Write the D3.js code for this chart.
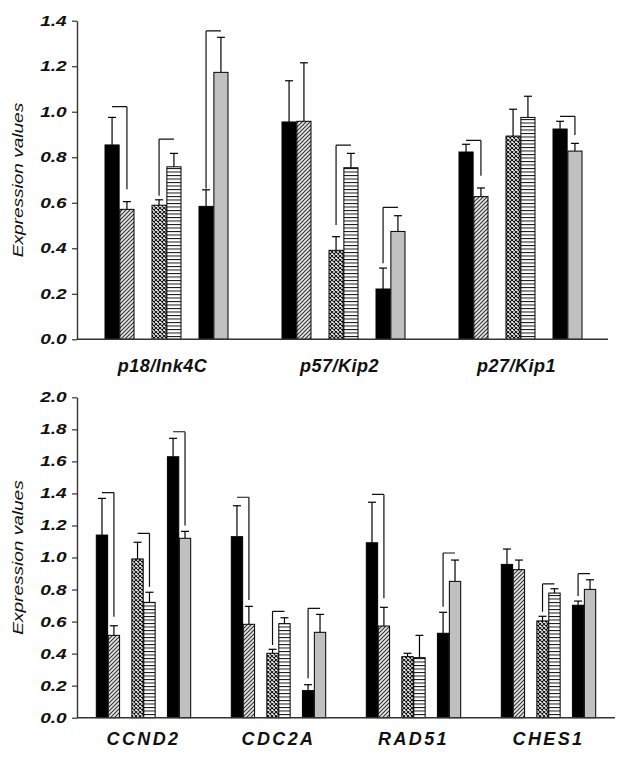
<!DOCTYPE html>
<html><head><meta charset="utf-8">
<script src="https://cdn.jsdelivr.net/npm/d3@7"></script>
<style>
body{margin:0;background:#fff;}
svg{display:block;}
</style></head>
<body>
<svg id="chart" width="628" height="761"></svg>
<script>
// ---------- data ----------
const seriesKeys = ["black1", "hatch", "cross", "stripe", "black2", "gray"];

const topCategories = ["p18/Ink4C", "p57/Kip2", "p27/Kip1"];
const topMeans = [
  [0.854, 0.571, 0.589, 0.758, 0.584, 1.173],
  [0.955, 0.958, 0.391, 0.754, 0.221, 0.474],
  [0.823, 0.627, 0.893, 0.975, 0.924, 0.827]
];
const topErrors = [
  [0.121, 0.034, 0.024, 0.059, 0.073, 0.154],
  [0.181, 0.257, 0.060, 0.063, 0.092, 0.069],
  [0.034, 0.038, 0.118, 0.093, 0.034, 0.034]
];
// [group, pair, bracket level, leg side (0 = left bar, 1 = right bar), leg end value]
const topBrackets = [
  [0, 0, 1.022, 1, 0.659],
  [0, 1, 0.880, 0, 0.631],
  [0, 2, 1.355, 0, 0.663],
  [1, 1, 0.853, 0, 0.502],
  [1, 2, 0.580, 0, 0.334],
  [2, 0, 0.874, 1, 0.719],
  [2, 2, 0.980, 1, 0.898]
];
const topTicks = [0, 0.2, 0.4, 0.6, 0.8, 1.0, 1.2, 1.4];

const botCategories = ["CCND2", "CDC2A", "RAD51", "CHES1"];
const botMeans = [
  [1.140, 0.514, 0.991, 0.720, 1.629, 1.120],
  [1.130, 0.583, 0.402, 0.587, 0.169, 0.533],
  [1.092, 0.572, 0.381, 0.375, 0.527, 0.851],
  [0.957, 0.924, 0.604, 0.778, 0.702, 0.801]
];
const botErrors = [
  [0.229, 0.060, 0.104, 0.063, 0.115, 0.043],
  [0.193, 0.112, 0.025, 0.037, 0.037, 0.112],
  [0.253, 0.117, 0.021, 0.139, 0.131, 0.133],
  [0.096, 0.060, 0.029, 0.027, 0.026, 0.060]
];
const botBrackets = [
  [0, 0, 1.405, 1, 0.630],
  [0, 1, 1.151, 1, 0.818],
  [0, 2, 1.785, 1, 1.199],
  [1, 0, 1.376, 1, 0.735],
  [1, 1, 0.664, 0, 0.454],
  [1, 2, 0.683, 0, 0.246],
  [2, 0, 1.394, 1, 0.745],
  [2, 2, 1.028, 0, 0.693],
  [3, 1, 0.835, 0, 0.662],
  [3, 2, 0.899, 0, 0.760]
];
const botTicks = [0, 0.2, 0.4, 0.6, 0.8, 1.0, 1.2, 1.4, 1.6, 1.8, 2.0];

const yTitle = "Expression values";

// ---------- drawing ----------
const svg = d3.select("#chart");
const defs = svg.append("defs");

// patterns
const pHatch = defs.append("pattern").attr("id", "hatch").attr("patternUnits", "userSpaceOnUse")
  .attr("width", 4).attr("height", 4);
pHatch.append("rect").attr("width", 4).attr("height", 4).attr("fill", "#e6e6e6");
pHatch.append("path").attr("d", "M-1,1 l2,-2 M0,4 l4,-4 M3,5 l2,-2")
  .attr("stroke", "#333").attr("stroke-width", 1.1);

const pCross = defs.append("pattern").attr("id", "cross").attr("patternUnits", "userSpaceOnUse")
  .attr("width", 4).attr("height", 4);
pCross.append("rect").attr("width", 4).attr("height", 4).attr("fill", "#fff");
pCross.append("path").attr("d", "M0,0 L4,4 M4,0 L0,4")
  .attr("stroke", "#111").attr("stroke-width", 1.1);

const pStripe = defs.append("pattern").attr("id", "stripe").attr("patternUnits", "userSpaceOnUse")
  .attr("width", 4).attr("height", 3.5);
pStripe.append("rect").attr("width", 4).attr("height", 3.5).attr("fill", "#fff");
pStripe.append("line").attr("x1", 0).attr("x2", 4).attr("y1", 0.5).attr("y2", 0.5)
  .attr("stroke", "#111").attr("stroke-width", 1);

const fills = {
  black1: "#000", hatch: "url(#hatch)", cross: "url(#cross)",
  stripe: "url(#stripe)", black2: "#000", gray: "#c0c0c0"
};

function panel(cfg) {
  const g = svg.append("g");
  const y = d3.scaleLinear().domain([0, cfg.ymax]).range([cfg.y0, cfg.y1]);
  const n = cfg.categories.length;
  const x0 = d3.scaleBand().domain(cfg.categories)
    .range([cfg.gStart, cfg.gStart + n * cfg.gPitch - (cfg.gPitch - cfg.gWidth)])
    .paddingInner((cfg.gPitch - cfg.gWidth) / cfg.gPitch);
  const xPair = d3.scaleBand().domain([0, 1, 2]).range([0, x0.bandwidth()])
    .paddingInner(cfg.pairPad);
  const xBar = d3.scaleBand().domain([0, 1]).range([0, xPair.bandwidth()]).paddingInner(0.05);

  const barX = (gi, si) => x0(cfg.categories[gi]) + xPair(Math.floor(si / 2)) + xBar(si % 2);
  const bw = xBar.bandwidth();
  const cx = (gi, si) => barX(gi, si) + bw / 2;

  // bars
  cfg.means.forEach((row, gi) => {
    row.forEach((v, si) => {
      g.append("rect")
        .attr("x", barX(gi, si)).attr("y", y(v))
        .attr("width", bw).attr("height", y(0) - y(v))
        .attr("fill", fills[seriesKeys[si]])
        .attr("stroke", "#000").attr("stroke-width", 1);
      const e = cfg.errors[gi][si];
      const xc = cx(gi, si);
      g.append("line").attr("x1", xc).attr("x2", xc)
        .attr("y1", y(v)).attr("y2", y(v + e))
        .attr("stroke", "#000").attr("stroke-width", 1.2);
      g.append("line").attr("x1", xc - 4).attr("x2", xc + 4)
        .attr("y1", y(v + e)).attr("y2", y(v + e))
        .attr("stroke", "#000").attr("stroke-width", 1.2);
    });
  });

  // brackets
  cfg.brackets.forEach(([gi, pi, lvl, side, end]) => {
    const xa = cx(gi, pi * 2), xb = cx(gi, pi * 2 + 1);
    const xl = side === 0 ? xa : xb;
    g.append("path")
      .attr("d", `M${xa},${y(lvl)} L${xb},${y(lvl)} M${xl},${y(lvl)} L${xl},${y(end)}`)
      .attr("fill", "none").attr("stroke", "#111").attr("stroke-width", 1.2);
  });

  // y axis
  const ax = g.append("g").attr("transform", `translate(${cfg.axisX},0)`)
    .call(d3.axisLeft(y).tickValues(cfg.ticks).tickFormat(d3.format(".1f"))
      .tickSize(5).tickSizeOuter(0).tickPadding(3));
  ax.select(".domain").attr("stroke", "#333").attr("stroke-width", 1.4);
  ax.selectAll(".tick line").attr("stroke", "#333").attr("stroke-width", 1.2);
  ax.selectAll(".tick text")
    .attr("font-family", "Liberation Sans, Arial, sans-serif")
    .attr("font-size", 14).attr("font-weight", "bold").attr("font-style", "italic")
    .attr("fill", "#111")
    .attr("x", -7.6)
    .attr("transform", "scale(1.36,1)");

  // x axis line
  g.append("line").attr("x1", cfg.axisX).attr("x2", cfg.axisEnd)
    .attr("y1", y(0)).attr("y2", y(0))
    .attr("stroke", "#333").attr("stroke-width", 1.4);

  // category labels
  g.selectAll(".cat").data(cfg.categories).enter().append("text")
    .attr("x", d => x0(d) + x0.bandwidth() / 2 + cfg.labelShift)
    .attr("y", cfg.labelY)
    .attr("text-anchor", "middle")
    .attr("font-family", "Liberation Sans, Arial, sans-serif")
    .attr("font-size", 18).attr("font-weight", "bold").attr("font-style", "italic")
    .attr("letter-spacing", cfg.letterSpacing)
    .attr("fill", "#111")
    .text(d => d);

  // y title
  g.append("text")
    .attr("transform", `translate(${cfg.titleX},${(cfg.y0 + cfg.y1) / 2}) rotate(-90) scale(1.27,1)`)
    .attr("text-anchor", "middle")
    .attr("font-family", "Liberation Sans, Arial, sans-serif")
    .attr("font-size", 15).attr("font-style", "italic")
    .attr("fill", "#111")
    .text(yTitle);
}

panel({
  categories: topCategories, means: topMeans, errors: topErrors, brackets: topBrackets,
  ticks: topTicks, ymax: 1.4, y0: 339.3, y1: 20.7,
  gStart: 105, gPitch: 177, gWidth: 123, pairPad: 0.383,
  axisX: 77, axisEnd: 608, labelY: 372, labelShift: -4, letterSpacing: 0.5, titleX: 23
});

panel({
  categories: botCategories, means: botMeans, errors: botErrors, brackets: botBrackets,
  ticks: botTicks, ymax: 2.0, y0: 717.7, y1: 397.3,
  gStart: 96.3, gPitch: 135, gWidth: 94.4, pairPad: 0.345,
  axisX: 77, axisEnd: 615, labelY: 745, labelShift: 0, letterSpacing: 2.4, titleX: 23
});
</script>
</body></html>
